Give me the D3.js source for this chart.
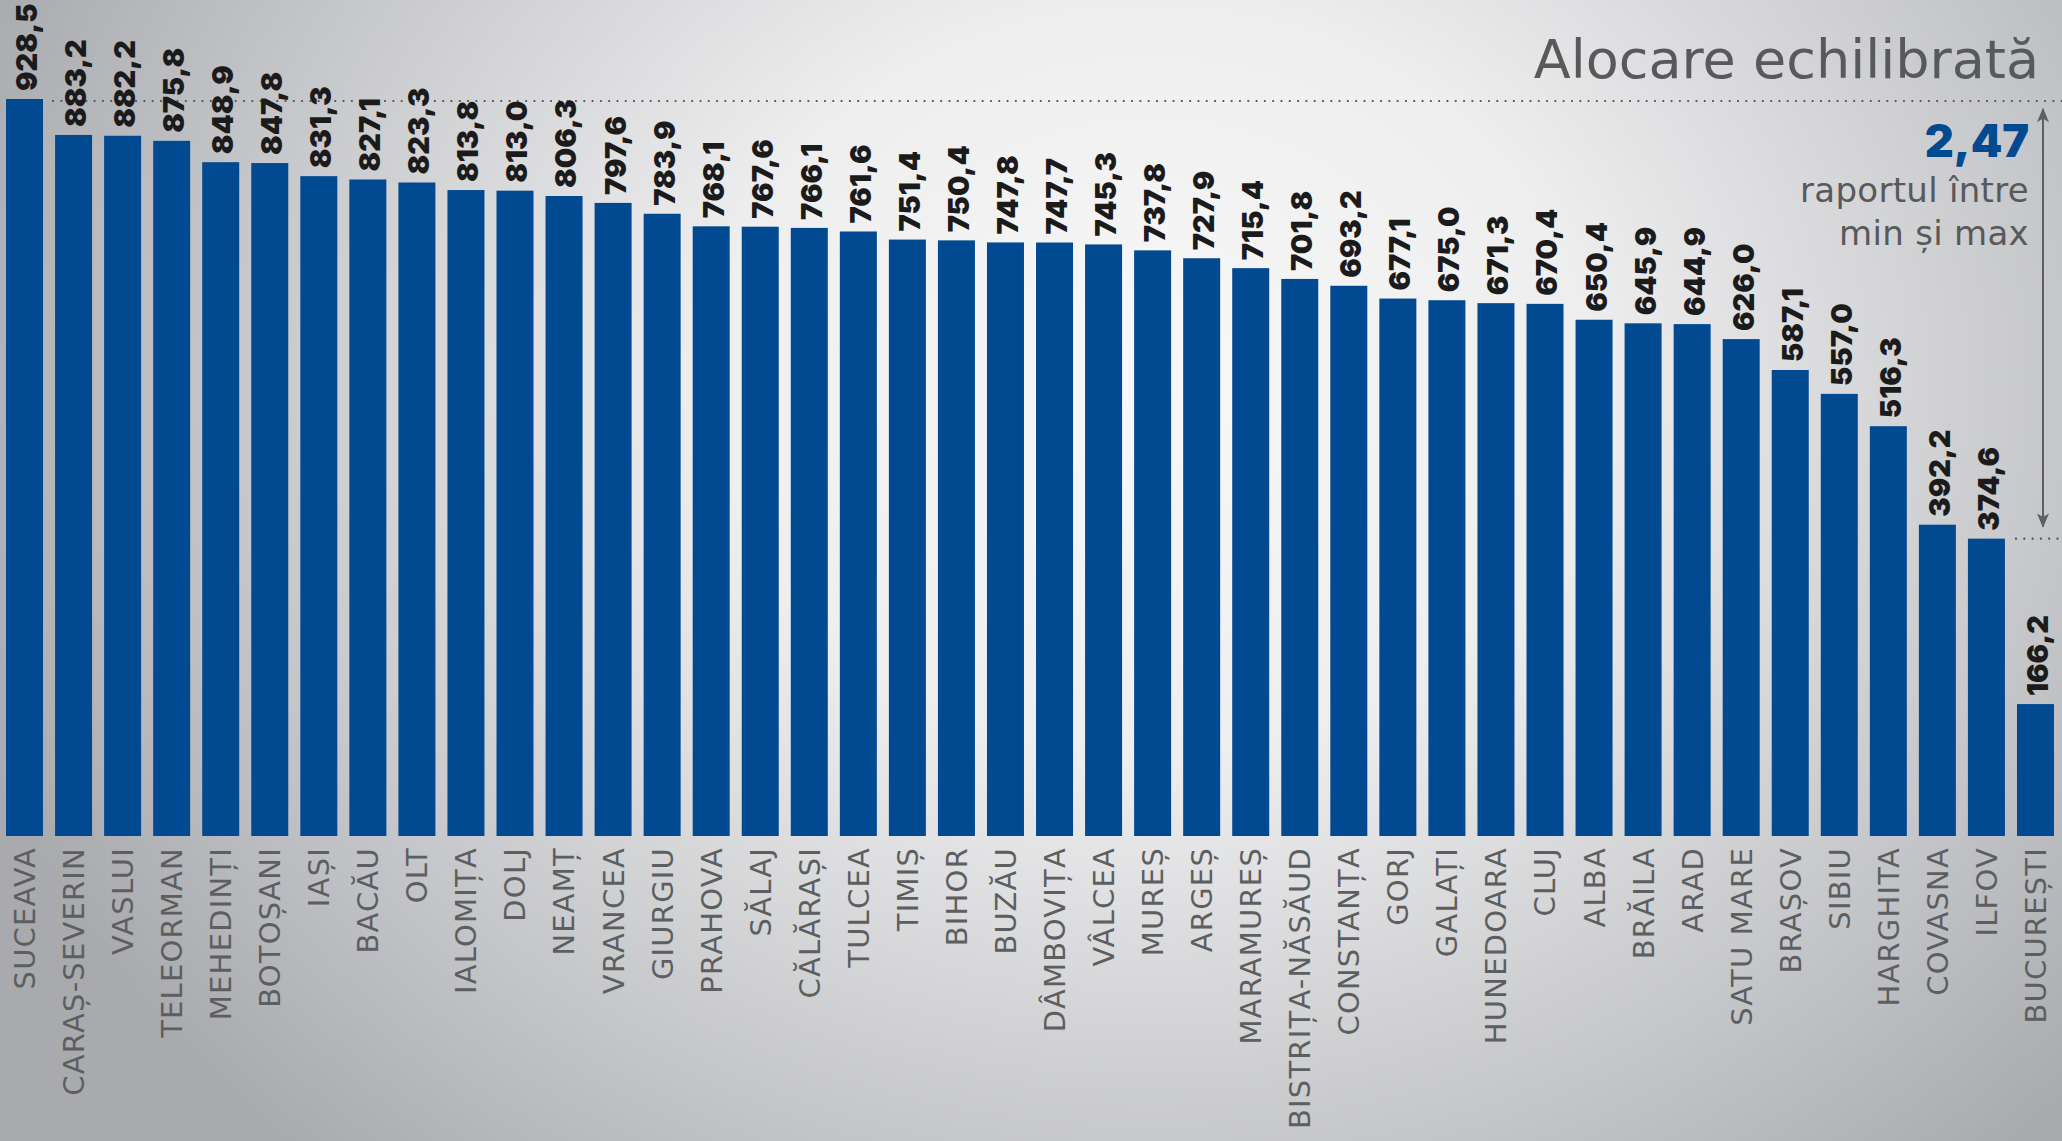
<!DOCTYPE html>
<html><head><meta charset="utf-8">
<script src="https://cdn.jsdelivr.net/npm/d3@7"></script>
<style>
html,body{margin:0;padding:0;overflow:hidden;background:#d0d1d3}
svg{display:block}
</style></head><body>
<svg id="chart" width="2062" height="1141"></svg>
<script>
const counties = ["SUCEAVA","CARAȘ-SEVERIN","VASLUI","TELEORMAN","MEHEDINȚI","BOTOȘANI","IAȘI","BACĂU","OLT","IALOMIȚA","DOLJ","NEAMȚ","VRANCEA","GIURGIU","PRAHOVA","SĂLAJ","CĂLĂRAȘI","TULCEA","TIMIȘ","BIHOR","BUZĂU","DÂMBOVIȚA","VÂLCEA","MUREȘ","ARGEȘ","MARAMUREȘ","BISTRIȚA-NĂSĂUD","CONSTANȚA","GORJ","GALAȚI","HUNEDOARA","CLUJ","ALBA","BRĂILA","ARAD","SATU MARE","BRAȘOV","SIBIU","HARGHITA","COVASNA","ILFOV","BUCUREȘTI"];
const values = [928.5,883.2,882.2,875.8,848.9,847.8,831.3,827.1,823.3,813.8,813.0,806.3,797.6,783.9,768.1,767.6,766.1,761.6,751.4,750.4,747.8,747.7,745.3,737.8,727.9,715.4,701.8,693.2,677.1,675.0,671.3,670.4,650.4,645.9,644.9,626.0,587.1,557.0,516.3,392.2,374.6,166.2];
const title = "Alocare echilibrată";
const ratioText = "2,47";
const ratioLines = ["raportul între","min și max"];
const refMax = 928.5, refMin = 374.6;

const W = 2062, H = 1141;
const svg = d3.select("#chart");
const fmt = v => d3.format(".1f")(v).replace(".", ",");

// background
const defs = svg.append("defs");
const rg = defs.append("radialGradient").attr("id","bg")
  .attr("gradientUnits","userSpaceOnUse")
  .attr("cx",1150).attr("cy",380).attr("r",1250)
  .attr("gradientTransform","translate(1150,380) scale(1,0.85) translate(-1150,-380)");
rg.append("stop").attr("offset","0").attr("stop-color","#f8f8f8");
rg.append("stop").attr("offset","0.35").attr("stop-color","#eeeeef");
rg.append("stop").attr("offset","0.75").attr("stop-color","#c4c5c8");
rg.append("stop").attr("offset","1").attr("stop-color","#a9aaae");
svg.append("rect").attr("width",W).attr("height",H).attr("fill","url(#bg)");

const x = d3.scaleBand().domain(counties).range([0, 2060]).paddingInner(0.2457).paddingOuter(0.1228);
const y = d3.scaleLinear().domain([0, refMax]).range([836, 99]);

// dotted reference lines
const dot = (x1,x2,yy) => svg.append("line").attr("x1",x1).attr("x2",x2).attr("y1",yy).attr("y2",yy)
  .attr("stroke","#4a4b4d").attr("stroke-width",2.2).attr("stroke-linecap","round").attr("stroke-dasharray","0 8.3");
dot(x(counties[1]) - 2, W, y(refMax) + 2);
dot(2016, W, y(refMin));

// bars
svg.append("g").selectAll("rect").data(counties).join("rect")
  .attr("x", d => x(d)).attr("width", x.bandwidth())
  .attr("y", (d,i) => y(values[i])).attr("height", (d,i) => y(0) - y(values[i]))
  .attr("fill","#014a91");

// value labels
svg.append("g").selectAll("text").data(counties).join("text")
  .attr("transform", (d,i) => `translate(${x(d) + x.bandwidth()/2 + 2},${y(values[i]) - 8}) rotate(-90)`)
  .attr("dy","0.36em")
  .attr("font-family","Inter, 'DejaVu Sans', sans-serif").attr("font-weight",900)
  .attr("font-size",29).attr("fill","#1c1b1c")
  .text((d,i) => fmt(values[i]));

// category labels
svg.append("g").selectAll("text").data(counties).join("text")
  .attr("transform", d => `translate(${x(d) + x.bandwidth()/2},847) rotate(-90)`)
  .attr("text-anchor","end").attr("dy","0.36em")
  .attr("font-family","'DejaVu Sans', sans-serif").attr("font-weight",400)
  .attr("font-size",29).attr("letter-spacing",1.2).attr("fill","#5d5e60")
  .text(d => d);

// title
svg.append("text").attr("x",2039).attr("y",78).attr("text-anchor","end")
  .attr("font-family","'DejaVu Sans', sans-serif").attr("font-size",54).attr("fill","#58595b")
  .text(title);

// arrow
defs.append("marker").attr("id","ah").attr("viewBox","0 0 12 10").attr("refX",11).attr("refY",5)
  .attr("markerUnits","userSpaceOnUse").attr("markerWidth",17).attr("markerHeight",12)
  .attr("orient","auto-start-reverse")
  .append("path").attr("d","M0,0 L12,5 L0,10 L3,5 Z").attr("fill","#5e5f61");
svg.append("line").attr("x1",2043).attr("x2",2043).attr("y1",y(refMax)+10).attr("y2",y(refMin)-12)
  .attr("stroke","#5e5f61").attr("stroke-width",2)
  .attr("marker-start","url(#ah)").attr("marker-end","url(#ah)");

// ratio text
svg.append("text").attr("x",2029).attr("y",157).attr("text-anchor","end")
  .attr("font-family","Inter, sans-serif").attr("font-weight",900).attr("font-size",45)
  .attr("fill","#014a91").text(ratioText);
svg.append("g").selectAll("text").data(ratioLines).join("text")
  .attr("x",2029).attr("y",(d,i) => 202 + i*43).attr("text-anchor","end")
  .attr("font-family","'DejaVu Sans', sans-serif").attr("font-weight",400).attr("font-size",34)
  .attr("letter-spacing",0.3).attr("fill","#58595b").text(d => d);
</script>
</body></html>
